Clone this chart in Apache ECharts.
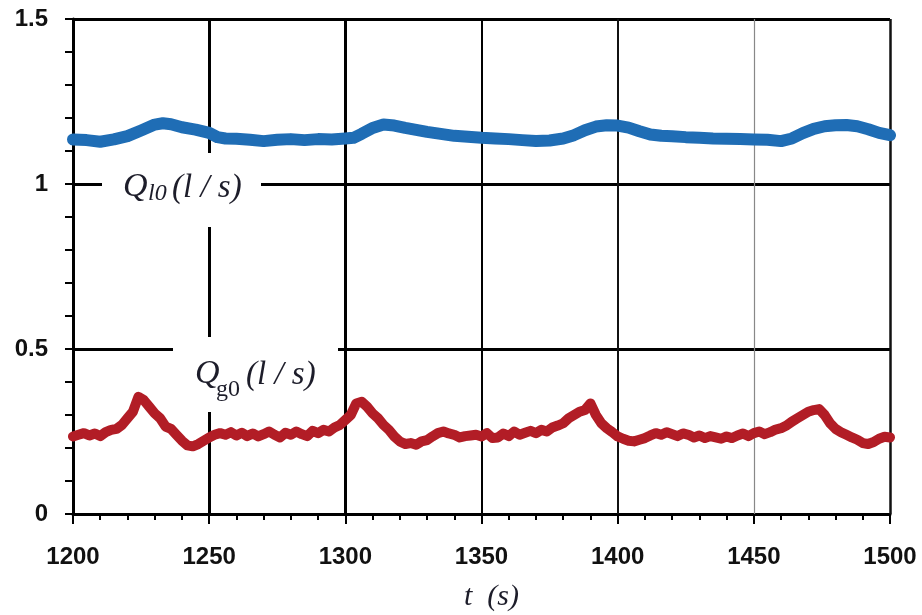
<!DOCTYPE html>
<html>
<head>
<meta charset="utf-8">
<script src="https://cdn.jsdelivr.net/npm/echarts@6/dist/echarts.min.js"></script>
<style>
  html, body { margin: 0; padding: 0; background: #fff; }
  #chart { width: 922px; height: 615px; }
</style>
</head>
<body>
<div id="chart"></div>
<script>
// Liquid inflow Q_l0 (l/s): sample times and values
const liquidTime = [
  1200, 1205, 1210, 1215, 1220, 1225, 1230, 1233, 1236, 1240, 1245, 1250, 1253, 1256,
  1260, 1265, 1270, 1275, 1280, 1285, 1290, 1295, 1300, 1303, 1306, 1310, 1314, 1318,
  1322, 1326, 1330, 1335, 1340, 1345, 1350, 1355, 1360, 1365, 1370, 1375, 1380, 1384,
  1388, 1392, 1396, 1400, 1404, 1408, 1412, 1416, 1420, 1425, 1430, 1435, 1440, 1445,
  1450, 1455, 1460, 1464, 1468, 1472, 1476, 1480, 1484, 1488, 1492, 1496, 1500
];
const liquidFlow = [
  1.135, 1.133, 1.128, 1.135, 1.145, 1.162, 1.180, 1.184, 1.181, 1.172, 1.165, 1.155, 1.142, 1.138,
  1.137, 1.134, 1.130, 1.134, 1.136, 1.133, 1.136, 1.135, 1.138, 1.140, 1.152, 1.170, 1.180, 1.177,
  1.170, 1.164, 1.158, 1.152, 1.146, 1.143, 1.140, 1.138, 1.136, 1.133, 1.130, 1.132, 1.138, 1.148,
  1.163, 1.174, 1.178, 1.177, 1.171, 1.160, 1.150, 1.146, 1.145, 1.142, 1.140, 1.138, 1.137, 1.136,
  1.135, 1.134, 1.130, 1.138, 1.154, 1.167, 1.175, 1.178, 1.179, 1.175, 1.166, 1.155, 1.148
];

// Gas inflow Q_g0 (l/s): one value every 2 s from 1200 s
const gasStart = 1200;
const gasStep = 2;
const gasFlow = [
  0.235, 0.240, 0.245, 0.238, 0.244, 0.236, 0.248, 0.255, 0.258, 0.270, 0.290, 0.310, 0.355, 0.345,
  0.325, 0.305, 0.290, 0.265, 0.258, 0.240, 0.222, 0.208, 0.205, 0.212, 0.222, 0.232, 0.240, 0.245,
  0.240, 0.248, 0.238, 0.246, 0.236, 0.244, 0.235, 0.242, 0.250, 0.240, 0.232, 0.246, 0.240, 0.250,
  0.242, 0.236, 0.252, 0.245, 0.255, 0.250, 0.262, 0.270, 0.285, 0.300, 0.335, 0.340, 0.325, 0.305,
  0.290, 0.270, 0.255, 0.235, 0.220, 0.212, 0.215, 0.210, 0.220, 0.224, 0.235, 0.245, 0.250, 0.244,
  0.240, 0.232, 0.236, 0.238, 0.240, 0.235, 0.245, 0.230, 0.232, 0.244, 0.236, 0.250, 0.240, 0.246,
  0.252, 0.245, 0.255, 0.250, 0.262, 0.268, 0.275, 0.290, 0.300, 0.310, 0.315, 0.335, 0.300, 0.275,
  0.260, 0.248, 0.235, 0.228, 0.222, 0.220, 0.225, 0.230, 0.238, 0.245, 0.240, 0.248, 0.242, 0.236,
  0.244, 0.240, 0.232, 0.238, 0.230, 0.236, 0.232, 0.228, 0.235, 0.230, 0.238, 0.244, 0.236, 0.245,
  0.250, 0.242, 0.248, 0.256, 0.260, 0.268, 0.280, 0.290, 0.300, 0.310, 0.315, 0.318, 0.300, 0.275,
  0.258, 0.248, 0.240, 0.232, 0.225, 0.215, 0.212, 0.218, 0.228, 0.234, 0.232
];

// Axis ticks and vertical guide lines
const xTicks = ['1200', '1250', '1300', '1350', '1400', '1450', '1500'];
const yTicks = ['0', '0.5', '1', '1.5'];
const guideTimes = [1250, 1300, 1350, 1400, 1450, 1500];
const guideWidths = [3, 3, 2, 2, 1.2, 2.5];
const guideColors = ['#000', '#000', '#000', '#111', '#888', '#111'];

const liquidData = liquidTime.map((t, i) => [t, liquidFlow[i]]);
const gasData = gasFlow.map((v, i) => [gasStart + i * gasStep, v]);

const serif = '"Liberation Serif", "DejaVu Serif", serif';
const textColor = '#1d1d2a';

const chart = echarts.init(document.getElementById('chart'), null, { renderer: 'canvas' });

chart.setOption({
  animation: false,
  backgroundColor: '#fff',
  grid: { left: 73, right: 32, top: 19, bottom: 101, containLabel: false, outerBoundsMode: 'none' },
  xAxis: {
    type: 'value',
    min: 1200, max: 1500, interval: 50,
    name: 't  (s)',
    nameLocation: 'middle',
    nameGap: 68,
    nameTextStyle: {
      fontFamily: serif, fontStyle: 'italic', fontSize: 30, color: textColor,
      padding: [0, 0, 0, 20]
    },
    axisLine: { show: true, onZero: false, lineStyle: { color: '#000', width: 3 } },
    axisTick: { show: true, inside: false, length: 10, lineStyle: { color: '#000', width: 2 } },
    minorTick: { show: true, splitNumber: 5, length: 6, lineStyle: { color: '#000', width: 2 } },
    splitLine: { show: false },
    axisLabel: {
      margin: 31, fontSize: 24, fontWeight: 'bold', color: '#111',
      fontFamily: '"Liberation Sans", Arial, sans-serif',
      formatter: v => xTicks[Math.round((v - 1200) / 50)] || ''
    }
  },
  yAxis: {
    type: 'value',
    min: 0, max: 1.5, interval: 0.5,
    axisLine: { show: true, onZero: false, lineStyle: { color: '#000', width: 3 } },
    axisTick: { show: true, inside: false, length: 8, lineStyle: { color: '#000', width: 2 } },
    minorTick: { show: true, splitNumber: 5, length: 8, lineStyle: { color: '#000', width: 2 } },
    splitLine: { show: true, lineStyle: { color: '#000', width: 3 } },
    axisLabel: {
      margin: 25, fontSize: 24, fontWeight: 'bold', color: '#111',
      fontFamily: '"Liberation Sans", Arial, sans-serif',
      formatter: v => yTicks[Math.round(v / 0.5)] || ''
    }
  },
  series: [
    {
      name: 'guides',
      type: 'line',
      data: [],
      silent: true,
      z: 1,
      markLine: {
        z: 1,
        silent: true,
        symbol: ['none', 'none'],
        label: { show: false },
        animation: false,
        data: guideTimes.map((t, i) => ({
          xAxis: t,
          lineStyle: { type: 'solid', color: guideColors[i], width: guideWidths[i] }
        }))
      }
    },
    {
      name: 'Ql0',
      type: 'line',
      data: liquidData,
      showSymbol: false,
      smooth: false,
      z: 3,
      lineStyle: { color: '#1f6db5', width: 12, join: 'round', cap: 'round' }
    },
    {
      name: 'Qg0',
      type: 'line',
      data: gasData,
      showSymbol: false,
      smooth: false,
      z: 3,
      lineStyle: { color: '#b21d26', width: 10, join: 'round', cap: 'round' }
    }
  ],
  graphic: [
    // white panel behind the liquid-flow label
    { type: 'rect', z: 100, shape: { x: 102, y: 153, width: 159, height: 74 }, style: { fill: '#fff' } },
    { type: 'text', z: 101, x: 123, y: 187, style: { text: 'Q', font: 'italic 34px ' + serif, fill: textColor, verticalAlign: 'middle' } },
    { type: 'text', z: 101, x: 148, y: 194, style: { text: 'l0', font: 'italic 24px ' + serif, fill: textColor, verticalAlign: 'middle' } },
    { type: 'text', z: 101, x: 172, y: 188, style: { text: '(l / s)', font: 'italic 33px ' + serif, fill: textColor, verticalAlign: 'middle' } },
    // white panel behind the gas-flow label
    { type: 'rect', z: 100, shape: { x: 173, y: 337, width: 165, height: 75 }, style: { fill: '#fff' } },
    { type: 'text', z: 101, x: 195, y: 374, style: { text: 'Q', font: 'italic 34px ' + serif, fill: textColor, verticalAlign: 'middle' } },
    { type: 'text', z: 101, x: 216, y: 390, style: { text: 'g0', font: '24px ' + serif, fill: textColor, verticalAlign: 'middle' } },
    { type: 'text', z: 101, x: 246, y: 375, style: { text: '(l / s)', font: 'italic 33px ' + serif, fill: textColor, verticalAlign: 'middle' } }
  ]
});
</script>
</body>
</html>
